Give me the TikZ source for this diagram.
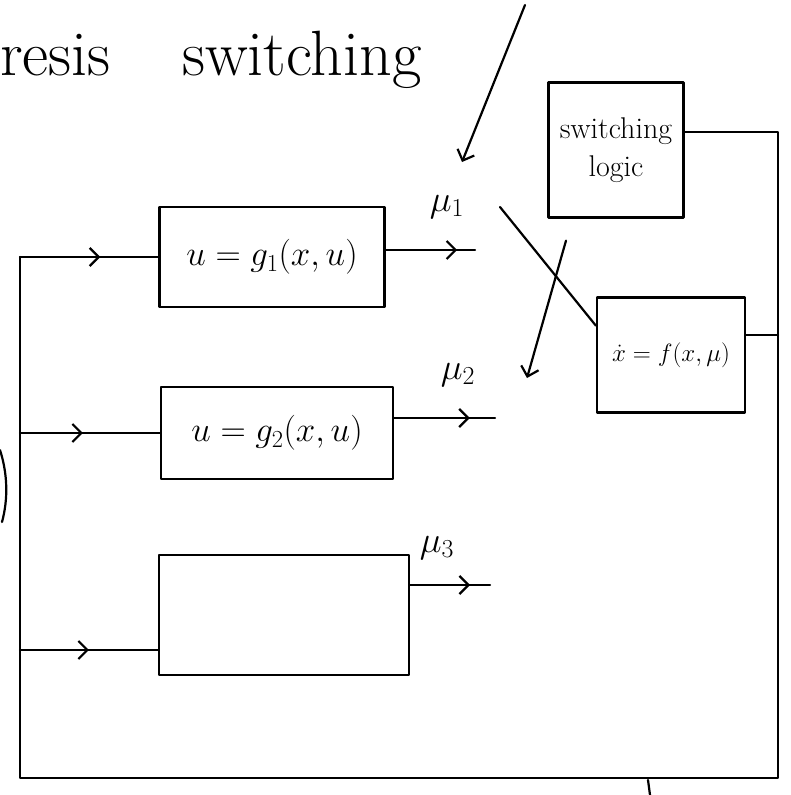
\RequirePackage{fix-cm}
\documentclass[tikz,border=0pt]{standalone}
\usepackage{fontspec}
\usetikzlibrary{arrows.meta,decorations.markings,calc}

\tikzset{
  ink/.style={line width=2.2pt, line cap=round, line join=round},
  block/.style={ink, draw, rectangle, inner sep=0pt},
  flowmark/.style={postaction={decorate},
    decoration={markings, mark=at position #1 with {\arrow{>}}}},
  titletext/.style={font=\fontsize{64}{72}\selectfont},
  blocktext/.style={font=\fontsize{35}{40}\selectfont},
  logictext/.style={font=\fontsize{30}{38}\selectfont},
  planttext/.style={font=\fontsize{25}{30}\selectfont},
  lab/.style={font=\fontsize{37}{42}\selectfont, inner sep=1pt},
}

\begin{document}
\begin{tikzpicture}[x=1pt, y=-1pt,
  >={Straight Barb[length=9pt,width=18pt]}]
\useasboundingbox (0,0) rectangle (790,795);

% heading
\node[titletext, anchor=base west, inner sep=0pt] (hw1) at (0,75) {resis};
\node[titletext, anchor=base west, inner sep=0pt] (hw2) at (182,75) {switching};

% controller blocks
\node[block, blocktext, minimum width=225pt, minimum height=100pt] (g1) at (272,257) {$u=g_1(x,u)$};
\node[block, blocktext, minimum width=232pt, minimum height=92pt] (g2) at (277,433) {$u=g_2(x,u)$};
\node[block, minimum width=250pt, minimum height=120pt] (g3) at (284,615) {};

% switching logic and plant
\node[block, logictext, minimum width=135pt, minimum height=135pt, align=center] (sl) at (616,150) {switching\\logic};
\node[block, planttext, minimum width=148pt, minimum height=115pt] (pl) at (671,355) {$\dot{x}=f(x,\mu)$};

% controller outputs
\node[lab] (mu1) at (447,207) {$\mu_1$};
\node[lab] (mu2) at (458,375) {$\mu_2$};
\node[lab] (mu3) at (437,548) {$\mu_3$};

\coordinate (o1) at (475,250);
\coordinate (o2) at (495,418);
\coordinate (o3) at (490,585);
\draw[ink, flowmark=0.8] (o1 -| g1.east) -- (o1);
\draw[ink, flowmark=0.75] (o2 -| g2.east) -- (o2);
\draw[ink, flowmark=0.75] (o3 -| g3.east) -- (o3);

% feedback loop
\coordinate (L1) at (20,257);
\coordinate (L2) at (20,433);
\coordinate (L3) at (20,650);
\coordinate (LB) at (20,778);
\coordinate (RB) at (778,778);
\coordinate (RM) at (778,335);
\coordinate (RT) at (778,132);
\draw[ink] (sl.east |- RT) -- (RT) -- (RB) -- (LB) -- (L1);
\draw[ink] (RM -| pl.east) -- (RM);
\draw[ink, flowmark=0.58] (L1) -- (L1 -| g1.west);
\draw[ink, flowmark=0.45] (L2) -- (L2 -| g2.west);
\draw[ink, flowmark=0.5] (L3) -- (L3 -| g3.west);

% switch: mu_1 connected to the plant, logic selecting mu_2
\coordinate (s1) at (500,207);
\coordinate (s2) at (527,378);
\draw[ink] (s1) -- ($(pl.north west)!0.25!(pl.south west)$);
\draw[ink, ->] ($(sl.south)+(-50,22)$) -- (s2);

% pointer to mu_1
\coordinate (t0) at (525,5);
\coordinate (t1) at (462,162);
\draw[ink, ->] (t0) -- (t1);

% strokes cut by the page edge
\draw[ink] (0,450) .. controls (8,475) and (8,500) .. (2,522);
\draw[ink] (648,780) -- (650,795);
\end{tikzpicture}
\end{document}
